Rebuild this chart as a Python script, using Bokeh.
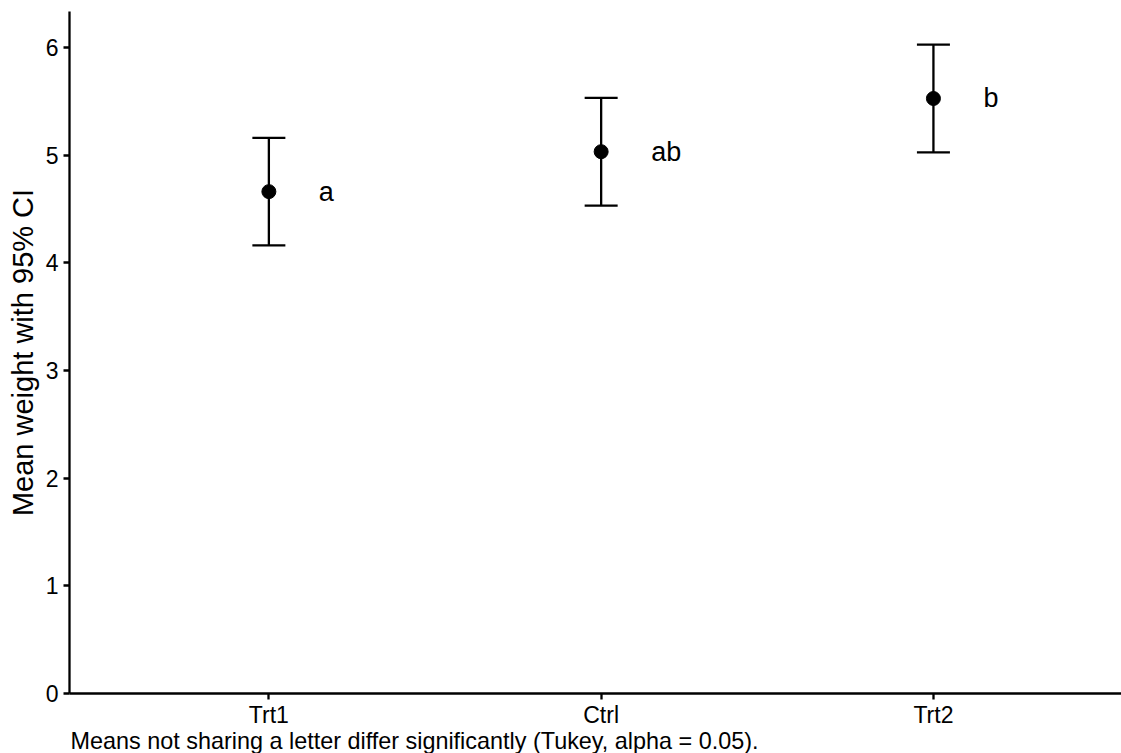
from bokeh.plotting import figure
from bokeh.models import ColumnDataSource, Range1d, FixedTicker, Whisker, TeeHead, Title
from bokeh.core.properties import value
from bokeh.embed import file_html
from bokeh.resources import INLINE

groups = ["Trt1", "Ctrl", "Trt2"]
positions = [1, 2, 3]
means = [4.661, 5.032, 5.526]
lower = [4.161, 4.532, 5.026]
upper = [5.161, 5.532, 6.026]
letters = ["a", "ab", "b"]
y_ticks = [0, 1, 2, 3, 4, 5, 6]
caption = "Means not sharing a letter differ significantly (Tukey, alpha = 0.05)."
y_title = "Mean weight with 95% CI"

FONT = "Liberation Sans"

src = ColumnDataSource(dict(x=positions, mean=means, lower=lower, upper=upper,
                            letter=letters, group=groups))

p = figure(width=1121, height=753, output_backend="svg", toolbar_location=None,
           x_range=Range1d(0.4, 3.566), y_range=Range1d(0, 6.334),
           min_border_left=69, min_border_right=0, min_border_top=11, min_border_bottom=60)
p.background_fill_color = "white"
p.border_fill_color = "white"
p.outline_line_color = None
p.grid.visible = False

w = Whisker(source=src, base="x", upper="upper", lower="lower",
            line_color="black", line_width=2.3,
            upper_head=TeeHead(size=33, line_width=2.3, line_color="black"),
            lower_head=TeeHead(size=33, line_width=2.3, line_color="black"))
p.add_layout(w)

p.scatter(x="x", y="mean", source=src, size=14, color="black")

p.text(x="x", y="mean", text="letter", source=src, x_offset=50,
       text_font=value(FONT), text_font_size="27px", text_baseline="middle",
       text_align="left", text_color="black")

for ax in (p.xaxis[0], p.yaxis[0]):
    ax.axis_line_width = 2.3
    ax.axis_line_color = "black"
    ax.major_tick_line_width = 2.3
    ax.major_tick_line_color = "black"
    ax.major_tick_in = 0
    ax.major_tick_out = 6
    ax.minor_tick_line_color = None
    ax.major_label_text_font = FONT
    ax.major_label_text_font_size = "23px"
    ax.major_label_text_color = "black"
    ax.major_label_standoff = 5

p.xaxis.ticker = FixedTicker(ticks=positions)
p.xaxis.major_label_overrides = {pos: g for pos, g in zip(positions, groups)}
p.xaxis.major_label_standoff = 2

p.yaxis.ticker = FixedTicker(ticks=y_ticks)
p.yaxis.axis_label = y_title
p.yaxis.axis_label_text_font = FONT
p.yaxis.axis_label_text_font_size = "29px"
p.yaxis.axis_label_text_font_style = "normal"
p.yaxis.axis_label_text_color = "black"
p.yaxis.axis_label_standoff = 4

cap = Title(text=caption, align="left", vertical_align="top", offset=1, standoff=-5,
            text_font=FONT, text_font_size="23.4px", text_color="black",
            text_font_style="normal", text_line_height=1.0)
p.add_layout(cap, "below")

open("out.html", "w").write(file_html(p, INLINE))
